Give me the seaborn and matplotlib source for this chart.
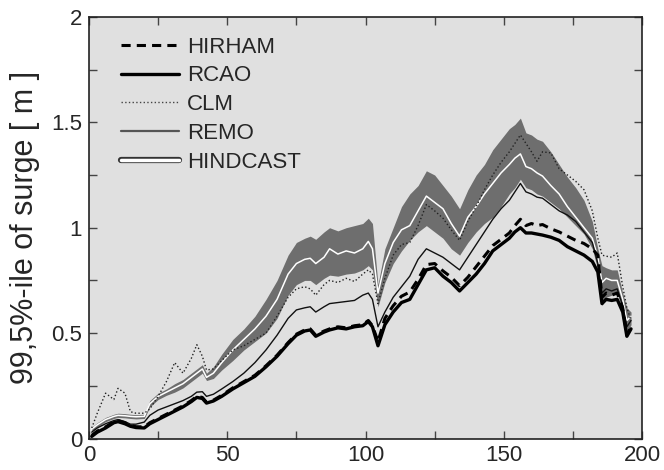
import numpy as np
import pandas as pd
import matplotlib
matplotlib.use("Agg")
import matplotlib.pyplot as plt
import matplotlib.patheffects as pe
from matplotlib.lines import Line2D
from matplotlib.ticker import MultipleLocator, FuncFormatter
import seaborn as sns

# station index along the coast
x = [1, 3, 6, 9, 10.5, 13, 15, 17, 20, 22, 25, 28, 31, 34, 37, 39, 41, 42.5, 45, 48,
     52, 56, 60, 64, 68, 72, 75, 78, 80, 82, 85, 87, 90, 93, 96, 99, 101, 102.5, 104.5, 107,
     110, 113, 116, 119, 122, 125, 128, 131, 134, 137, 140, 143, 146, 149, 152, 154, 156, 158, 160, 162,
     164, 167, 170, 173, 176, 179, 182, 184, 185.5, 187, 189, 191, 193, 194.5, 196]

rcao = [0.01, 0.03, 0.05, 0.075, 0.08, 0.07, 0.058, 0.052, 0.05, 0.07, 0.09, 0.11, 0.13, 0.15, 0.175, 0.195, 0.19, 0.168, 0.178, 0.2,
        0.235, 0.265, 0.295, 0.34, 0.39, 0.45, 0.49, 0.51, 0.515, 0.485, 0.505, 0.515, 0.525, 0.52, 0.53, 0.535, 0.555, 0.53, 0.44, 0.54,
        0.6, 0.645, 0.66, 0.73, 0.8, 0.81, 0.77, 0.74, 0.7, 0.74, 0.78, 0.83, 0.89, 0.92, 0.95, 0.98, 1.0, 0.975, 0.975, 0.97,
        0.965, 0.955, 0.94, 0.91, 0.89, 0.87, 0.84, 0.79, 0.64, 0.66, 0.655, 0.66, 0.6, 0.485, 0.52]

hirham = [0.015, 0.035, 0.055, 0.08, 0.085, 0.075, 0.062, 0.056, 0.055, 0.075, 0.095, 0.115, 0.135, 0.155, 0.18, 0.2, 0.195, 0.172, 0.182, 0.205,
          0.24, 0.27, 0.3, 0.345, 0.395, 0.455, 0.495, 0.515, 0.52, 0.49, 0.51, 0.52, 0.53, 0.525, 0.535, 0.54, 0.56, 0.535, 0.46, 0.57,
          0.63, 0.675, 0.695, 0.755, 0.825, 0.83, 0.795, 0.765, 0.725, 0.765, 0.815, 0.865, 0.915, 0.945, 0.975, 1.01, 1.04, 1.01, 1.02, 1.01,
          1.015, 0.995, 0.98, 0.96, 0.94, 0.925, 0.9, 0.87, 0.67, 0.69, 0.68, 0.69, 0.62, 0.49, 0.53]

remo = [0.03, 0.05, 0.07, 0.085, 0.09, 0.08, 0.068, 0.068, 0.078, 0.11, 0.135, 0.15, 0.165, 0.18, 0.2, 0.22, 0.222, 0.2, 0.21, 0.235,
        0.27, 0.31, 0.36, 0.42, 0.49, 0.57, 0.61, 0.62, 0.625, 0.6, 0.625, 0.64, 0.645, 0.65, 0.655, 0.68, 0.69, 0.66, 0.53, 0.6,
        0.67, 0.72, 0.77, 0.85, 0.9, 0.88, 0.86, 0.83, 0.8, 0.86, 0.92, 0.98, 1.04, 1.09, 1.13, 1.17, 1.21, 1.17, 1.16, 1.145,
        1.14, 1.11, 1.08, 1.06, 1.03, 0.98, 0.93, 0.83, 0.69, 0.71, 0.7, 0.71, 0.63, 0.53, 0.56]

clm = [0.05, 0.12, 0.215, 0.185, 0.238, 0.215, 0.127, 0.12, 0.12, 0.14, 0.2, 0.27, 0.36, 0.31, 0.38, 0.445, 0.39, 0.325, 0.33, 0.37,
       0.42, 0.44, 0.47, 0.5, 0.58, 0.67, 0.71, 0.72, 0.71, 0.68, 0.73, 0.75, 0.74, 0.76, 0.745, 0.78, 0.8, 0.78, 0.64, 0.76,
       0.87, 0.92, 0.93, 1.01, 1.11, 1.08, 1.045, 0.99, 0.94, 1.03, 1.1, 1.18, 1.25, 1.31, 1.36, 1.4, 1.44, 1.4, 1.36, 1.315,
       1.36, 1.355, 1.28, 1.25, 1.22, 1.18, 1.08, 0.95, 0.87, 0.865, 0.86, 0.88, 0.72, 0.62, 0.56]

hindcast = [0.045, 0.065, 0.09, 0.105, 0.11, 0.108, 0.105, 0.103, 0.105, 0.165, 0.2, 0.22, 0.24, 0.26, 0.29, 0.31, 0.33, 0.29, 0.31, 0.36,
            0.42, 0.47, 0.52, 0.58, 0.66, 0.78, 0.83, 0.85, 0.855, 0.83, 0.86, 0.9, 0.875, 0.89, 0.88, 0.9, 0.935, 0.9, 0.69, 0.83,
            0.93, 0.99, 1.01, 1.08, 1.15, 1.12, 1.09, 1.02, 0.96, 1.05, 1.1, 1.16, 1.21, 1.26, 1.3, 1.33, 1.35, 1.29, 1.28, 1.26,
            1.245, 1.2, 1.16, 1.1, 1.05, 1.0, 0.95, 0.86, 0.74, 0.76, 0.75, 0.75, 0.66, 0.56, 0.58]

band_hi = [0.055, 0.075, 0.1, 0.115, 0.12, 0.118, 0.115, 0.113, 0.115, 0.18, 0.215, 0.235, 0.26, 0.28, 0.31, 0.33, 0.35, 0.31, 0.34, 0.4,
           0.47, 0.52, 0.58, 0.66, 0.75, 0.87, 0.93, 0.95, 0.96, 0.945, 0.98, 1.0, 0.985, 1.0, 1.01, 1.02, 1.045, 1.02, 0.73, 0.9,
           1.0, 1.1, 1.16, 1.2, 1.27, 1.25, 1.2, 1.15, 1.09, 1.18, 1.25, 1.3, 1.37, 1.42, 1.47, 1.49, 1.52, 1.45, 1.44, 1.42,
           1.41, 1.36, 1.3, 1.24, 1.19, 1.13, 1.03, 0.9, 0.82, 0.81, 0.8, 0.8, 0.69, 0.62, 0.6]

band_lo = [0.035, 0.055, 0.08, 0.095, 0.1, 0.098, 0.095, 0.093, 0.095, 0.15, 0.185, 0.205, 0.22, 0.24, 0.27, 0.29, 0.31, 0.275, 0.285, 0.325,
           0.37, 0.42, 0.46, 0.5, 0.57, 0.68, 0.73, 0.75, 0.75, 0.73, 0.76, 0.775, 0.77, 0.78, 0.785, 0.8, 0.82, 0.8, 0.625, 0.74,
           0.83, 0.89, 0.94, 0.98, 1.01, 0.98, 0.95, 0.9, 0.87, 0.93, 0.98, 1.02, 1.05, 1.1, 1.16, 1.19, 1.23, 1.19, 1.18, 1.16,
           1.15, 1.12, 1.09, 1.05, 1.01, 0.97, 0.9, 0.8, 0.63, 0.67, 0.68, 0.69, 0.6, 0.5, 0.54]

df = pd.DataFrame({"x": x, "HIRHAM": hirham, "RCAO": rcao, "CLM": clm, "REMO": remo,
                   "HINDCAST": hindcast, "lo": band_lo, "hi": band_hi})

sns.set_style("ticks")
plt.rcParams["font.family"] = ["Liberation Sans", "DejaVu Sans"]

fig, ax = plt.subplots(figsize=(6.64, 4.70), dpi=100)
fig.subplots_adjust(left=0.134, right=0.967, bottom=0.067, top=0.964)
ax.set_facecolor("#e0e0e0")

band = "#6e6e6e"
ax.fill_between(df["x"], df["lo"], df["hi"], color=band, lw=0, zorder=1)
sns.lineplot(data=df, x="x", y="HINDCAST", ax=ax, color="white", lw=1.1, zorder=3)
sns.lineplot(data=df, x="x", y="CLM", ax=ax, color="#222222", lw=1.0, linestyle=":", zorder=4)
sns.lineplot(data=df, x="x", y="REMO", ax=ax, color="#111111", lw=1.0, zorder=4)
sns.lineplot(data=df, x="x", y="RCAO", ax=ax, color="black", lw=2.4, zorder=5)
sns.lineplot(data=df, x="x", y="HIRHAM", ax=ax, color="black", lw=2.2, linestyle=(0, (3, 2)), zorder=6)

ax.set_xlim(0, 200)
ax.set_ylim(0, 2)
ax.xaxis.set_major_locator(MultipleLocator(50))
ax.xaxis.set_minor_locator(MultipleLocator(25))
ax.yaxis.set_major_locator(MultipleLocator(0.5))
ax.yaxis.set_minor_locator(MultipleLocator(0.25))
ax.yaxis.set_major_formatter(FuncFormatter(lambda v, p: f"{v:g}"))
ax.tick_params(which="both", direction="in", top=True, right=True, length=6, width=1, color="#444444")
ax.tick_params(which="major", labelsize=16, pad=5)
for s in ax.spines.values():
    s.set_color("#222222")
    s.set_linewidth(1.2)

ax.set_xlabel("")
ax.set_ylabel("99,5%-ile of surge [ m ]", fontsize=22, labelpad=8)

handles = [
    Line2D([], [], color="black", lw=2.2, linestyle=(0, (3, 2))),
    Line2D([], [], color="black", lw=2.4),
    Line2D([], [], color="#444444", lw=1.0, linestyle=":"),
    Line2D([], [], color="#555555", lw=1.6),
    Line2D([], [], color="white", lw=2.5,
           path_effects=[pe.Stroke(linewidth=4.5, foreground="#333333"), pe.Normal()]),
]
ax.legend(handles, ["HIRHAM", "RCAO", "CLM", "REMO", "HINDCAST"], loc="upper left",
          frameon=False, fontsize=16, handlelength=2.6, labelspacing=0.35,
          handletextpad=0.35, borderaxespad=0.3, bbox_to_anchor=(0.03, 0.99))

fig.savefig("out.png", dpi=100)
